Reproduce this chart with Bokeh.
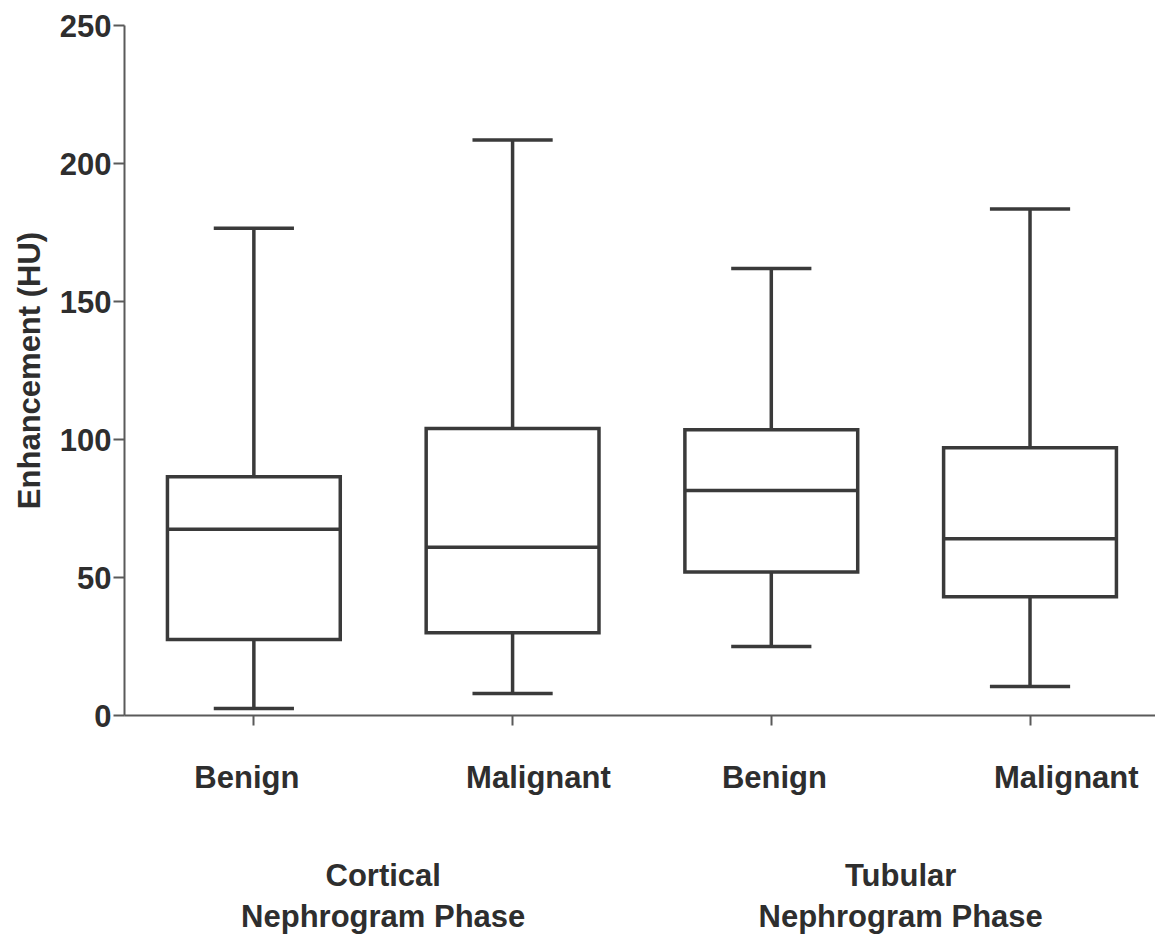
from bokeh.plotting import figure
from bokeh.models import Range1d, FixedTicker, LinearAxis, ColumnDataSource
from bokeh.embed import file_html
from bokeh.resources import INLINE

# ---- data ----
categories = ["Benign", "Malignant", "Benign", "Malignant"]
group_top = ["Cortical", "Tubular"]
group_bottom = ["Nephrogram Phase", "Nephrogram Phase"]
whisker_low = [2.5, 8.0, 25.0, 10.5]
q1 = [27.5, 30.0, 52.0, 43.0]
median = [67.5, 61.0, 81.5, 64.0]
q3 = [86.5, 104.0, 103.5, 97.0]
whisker_high = [176.5, 208.5, 162.0, 183.5]
y_ticks = [0, 50, 100, 150, 200, 250]

# layout: horizontal offsets of the category labels from their ticks (in category units)
label_shift = [-0.027, 0.10, 0.012, 0.14]

FONT = "Liberation Sans"
FS = "31px"
TXT = "#2e2e2e"
LINE = "#3a3a3a"
AXC = "#5a5a5a"

xpos = [i + 0.5 for i in range(len(categories))]
box_w = 0.668
cap_w = 0.31

src = ColumnDataSource(dict(
    x=xpos,
    left=[x - box_w / 2 for x in xpos],
    right=[x + box_w / 2 for x in xpos],
    cap_l=[x - cap_w / 2 for x in xpos],
    cap_r=[x + cap_w / 2 for x in xpos],
    lo=whisker_low, q1=q1, med=median, q3=q3, hi=whisker_high,
))

p = figure(width=1155, height=936, output_backend="svg", toolbar_location=None,
           x_range=Range1d(0, 3.985), y_range=Range1d(0, 250),
           min_border_left=124, min_border_right=0, min_border_top=25,
           min_border_bottom=221)
p.grid.visible = False
p.outline_line_color = None
p.background_fill_color = "white"
p.border_fill_color = "white"

# whiskers
p.segment(x0="x", y0="q3", x1="x", y1="hi", source=src, line_color=LINE, line_width=3.5)
p.segment(x0="x", y0="lo", x1="x", y1="q1", source=src, line_color=LINE, line_width=3.5)
p.segment(x0="cap_l", y0="hi", x1="cap_r", y1="hi", source=src, line_color=LINE, line_width=3.5)
p.segment(x0="cap_l", y0="lo", x1="cap_r", y1="lo", source=src, line_color=LINE, line_width=3.5)
# boxes
p.quad(left="left", right="right", bottom="q1", top="q3", source=src,
       fill_color="white", line_color=LINE, line_width=3.5, line_join="miter")
p.segment(x0="left", y0="med", x1="right", y1="med", source=src, line_color=LINE, line_width=3.5)


def style_labels(ax):
    ax.major_label_text_font = FONT
    ax.major_label_text_font_size = FS
    ax.major_label_text_font_style = "bold"
    ax.major_label_text_color = TXT


def no_ticks(ax):
    ax.axis_line_color = None
    ax.major_tick_line_color = None
    ax.minor_tick_line_color = None
    ax.major_tick_out = 0
    ax.major_tick_in = 0
    ax.minor_tick_out = 0
    ax.minor_tick_in = 0


# y axis
ya = p.yaxis[0]
ya.ticker = FixedTicker(ticks=y_ticks)
ya.axis_label = "Enhancement (HU)"
ya.axis_label_text_font = FONT
ya.axis_label_text_font_size = FS
ya.axis_label_text_font_style = "bold"
ya.axis_label_text_color = TXT
ya.axis_label_standoff = 10
style_labels(ya)
ya.major_label_standoff = 2
ya.major_tick_out = 11
ya.major_tick_in = 0
ya.minor_tick_out = 0
ya.minor_tick_in = 0
ya.axis_line_color = AXC
ya.axis_line_width = 2
ya.major_tick_line_color = AXC
ya.major_tick_line_width = 2

# x axis: tick marks only
xa = p.xaxis[0]
xa.ticker = FixedTicker(ticks=xpos)
xa.major_label_overrides = {x: "" for x in xpos}
style_labels(xa)
xa.major_label_standoff = 0
xa.major_tick_out = 10
xa.major_tick_in = 0
xa.minor_tick_out = 0
xa.minor_tick_in = 0
xa.axis_line_color = AXC
xa.axis_line_width = 2
xa.major_tick_line_color = AXC
xa.major_tick_line_width = 2

# category labels axis
lpos = [x + s for x, s in zip(xpos, label_shift)]
ca = LinearAxis(ticker=FixedTicker(ticks=lpos),
                major_label_overrides={x: c for x, c in zip(lpos, categories)})
no_ticks(ca)
style_labels(ca)
ca.major_label_standoff = 34
p.add_layout(ca, "below")

# group label axes
gpos = [1.0, 3.0]
for labels, standoff in ((group_top, 60), (group_bottom, 3)):
    ax = LinearAxis(ticker=FixedTicker(ticks=gpos),
                    major_label_overrides={g: t for g, t in zip(gpos, labels)})
    no_ticks(ax)
    style_labels(ax)
    ax.major_label_standoff = standoff
    p.add_layout(ax, "below")

open("out.html", "w").write(file_html(p, INLINE))
